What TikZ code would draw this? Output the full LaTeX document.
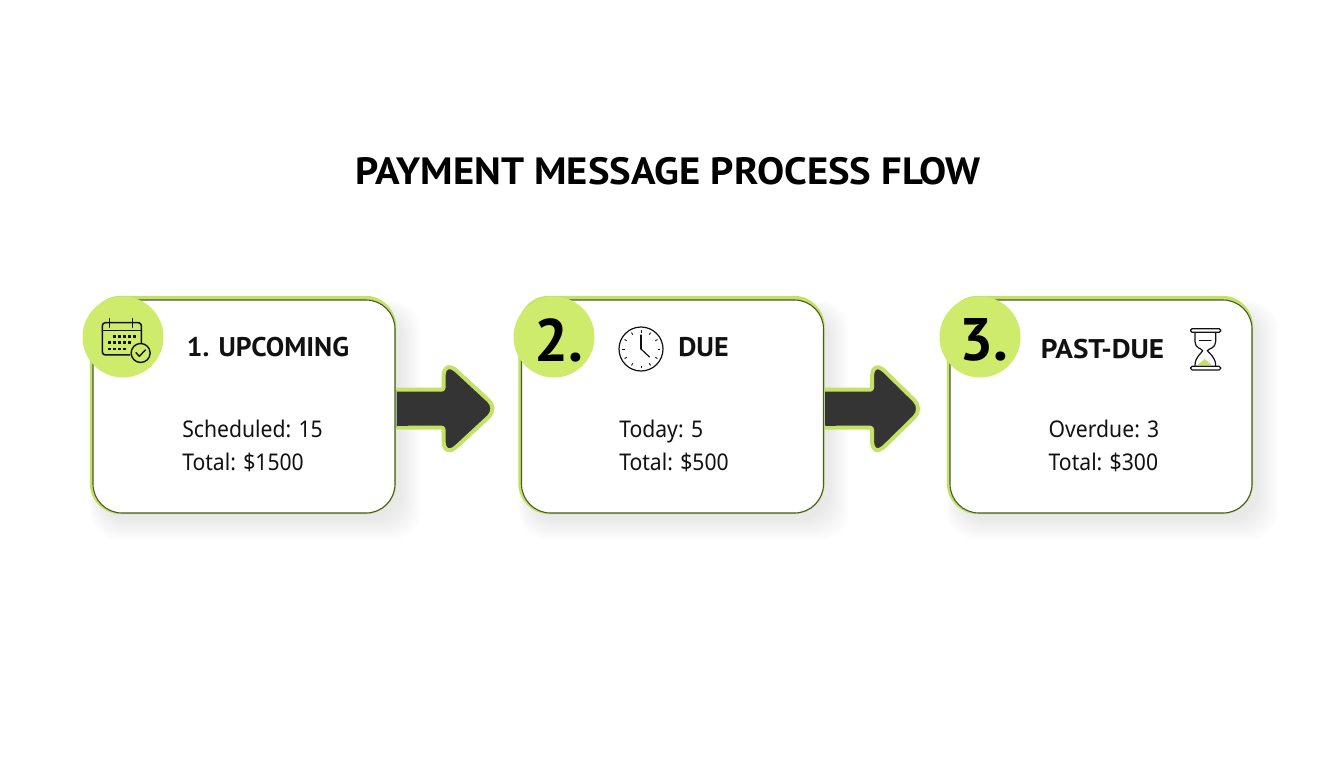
\documentclass[tikz,border=0pt]{standalone}
\usepackage{fontspec}
\setmainfont{Noto Sans}
\newfontfamily\headfont{PT Sans}
\usetikzlibrary{calc}
\definecolor{lime}{HTML}{CFEB6B}
\definecolor{limedk}{HTML}{C3E264}
\definecolor{cardline}{HTML}{4A5A2A}
\definecolor{arrowdk}{HTML}{343434}
\definecolor{inkc}{HTML}{111111}
\newcommand{\cardshadow}[1]{%
  \foreach \g in {22,20,...,2}{
    \fill[black,opacity=0.008,rounded corners=30] ($(#1.south west)+(-0.5*\g+8,\g+5)$) rectangle ($(#1.north east)+(\g+4,-0.5*\g+12)$);
  }}
\newcommand{\cardrim}[1]{%
  \fill[limedk,rounded corners=31] ($(#1.south west)+(-3,1)$) rectangle ($(#1.north east)+(1,-4)$);}
\tikzset{x=1pt,y=-1pt,
  card/.style={draw=cardline,line width=1.1pt,fill=white,rounded corners=29,minimum width=302,minimum height=213,inner sep=0,anchor=center},
  badge/.style={circle,fill=lime,minimum size=81,inner sep=0},
  headtxt/.style={font=\headfont\fontsize{27}{30}\selectfont\bfseries,text=inkc,inner sep=0},
  bodytxt/.style={font=\fontsize{23}{33}\selectfont,text=inkc,inner sep=0,xscale=.92,align=left},
  numtxt/.style={font=\headfont\fontsize{60}{60}\selectfont\bfseries,text=black,inner sep=0},
  titletxt/.style={font=\headfont\fontsize{38}{40}\selectfont\bfseries,text=black,inner sep=0,xscale=1.07},
  icon/.style={draw=inkc,line width=1.3pt,line cap=round,line join=round},
  flowarrow/.style={fill=arrowdk,draw=limedk,line width=4pt,line join=round},
}
\begin{document}
\begin{tikzpicture}
\useasboundingbox (0,0) rectangle (1344,768);
\fill[white] (0,0) rectangle (1344,768);
\node[titletxt] (title) at (668,171) {PAYMENT MESSAGE PROCESS FLOW};

\coordinate (p1) at (244,406.5);
\coordinate (p2) at (672.5,406.5);
\coordinate (p3) at (1101,406.5);
\begin{scope}[every node/.style={minimum width=302,minimum height=213,inner sep=0}]
\node (g1) at (p1) {}; \node (g2) at (p2) {}; \node (g3) at (p3) {};
\end{scope}
\cardshadow{g1}\cardshadow{g2}\cardshadow{g3}
\cardrim{g1}\cardrim{g2}\cardrim{g3}
\node[card] (c1) at (p1) {};
\node[card] (c2) at (p2) {};
\node[card] (c3) at (p3) {};

% arrows
\foreach \a/\t in {c1/102,c2/99}{
  \path (\a.east) ++(0,2.2) coordinate (m);
  \draw[flowarrow] ($(m)+(1,-19)$) [rounded corners=2] -- ($(m)+(48,-19)$) [rounded corners=18] -- ($(m)+(48,-50)$) [rounded corners=12] -- ($(m)+(\t,0)$) [rounded corners=18] -- ($(m)+(48,50)$) [rounded corners=2] -- ($(m)+(48,19)$) [sharp corners] -- ($(m)+(1,19)$);
  \fill[arrowdk] ($(m)+(1.5,-17)$) rectangle ($(m)+(12,17)$);
}

% badges
\node[badge] (b1) at (123,337) {};
\node[badge] (b2) at (554,337) {};
\node[badge] (b3) at (980,337) {};
\node[numtxt] (n2) at (559,340) {2.};
\node[numtxt] (n3) at (984,340) {3.};

% headings
\node[headtxt,xscale=1.02] (h1) at (268,347) {1. UPCOMING};
\node[headtxt,xscale=1.04] (h2) at (703.5,347) {DUE};
\node[headtxt,xscale=1.08] (h3) at (1102.5,349) {PAST-DUE};

% bodies
\node[bodytxt] (t1) at (252.5,446) {Scheduled: 15\\Total: \$1500};
\node[bodytxt] (t2) at (674,446) {Today: 5\\Total: \$500};
\node[bodytxt] (t3) at (1104,446) {Overdue: 3\\Total: \$300};

% calendar icon
\begin{scope}[shift={(70,280)},x=0.3333pt,y=-0.3333pt]
\draw[icon,line width=1.5pt,rounded corners=3] (180,225) -- (97,225) -- (97,128) -- (214,128) -- (214,190);
\draw[icon,line width=1.4pt] (97,152) -- (214,152);
\draw[icon,line width=1.4pt] (118,116) -- (118,142) (187,116) -- (187,142);
\foreach \yy/\xs in {170/{133,148,163,178,193},187/{118,133,148,163,178},207/{118,133,148,163}}{
  \foreach \xx in \xs { \fill[inkc] (\xx-5,\yy-4) rectangle (\xx+5,\yy+4); }
}
\node[circle,draw=inkc,fill=lime,line width=1.4pt,minimum size=19,inner sep=0] (chk) at (212,219) {};
\draw[icon,line width=1.4pt] (198,218) -- (208,229) -- (226,210);
\end{scope}

% clock icon
\node[circle,draw=inkc,fill=white,line width=1.2pt,minimum size=44,inner sep=0] (clk) at (641,349) {};
\foreach \ang in {0,30,...,330}{
  \draw[inkc,line width=0.9pt] ($(clk.center)+(\ang:16.5)$) -- ($(clk.center)+(\ang:19)$);
}
\draw[icon,line width=1.2pt] (clk.center) -- ++(0,-14);
\draw[icon,line width=1.2pt] (clk.center) -- ++(8.5,8);

% hourglass icon
\begin{scope}[shift={(930,285)},x=0.3333pt,y=-0.3333pt]
\fill[limedk] (803,240) -- (845,240) -- (824,222) -- cycle;
\draw[icon,line width=1.2pt] (795,142) -- (795,170) .. controls (795,190) and (815,190) .. (818,197) .. controls (815,205) and (795,215) .. (795,242);
\draw[icon,line width=1.2pt] (857,142) -- (857,170) .. controls (857,190) and (837,190) .. (832,197) .. controls (837,205) and (857,215) .. (857,242);
\draw[icon,line width=0.7pt] (808,166) -- (844,166);
\draw[draw=inkc,fill=white,line width=1.2pt,rounded corners=1.5] (782,131) rectangle (872,142);
\draw[draw=inkc,fill=white,line width=1.2pt,rounded corners=1.5] (782,244) rectangle (872,255);
\end{scope}
\end{tikzpicture}
\end{document}
